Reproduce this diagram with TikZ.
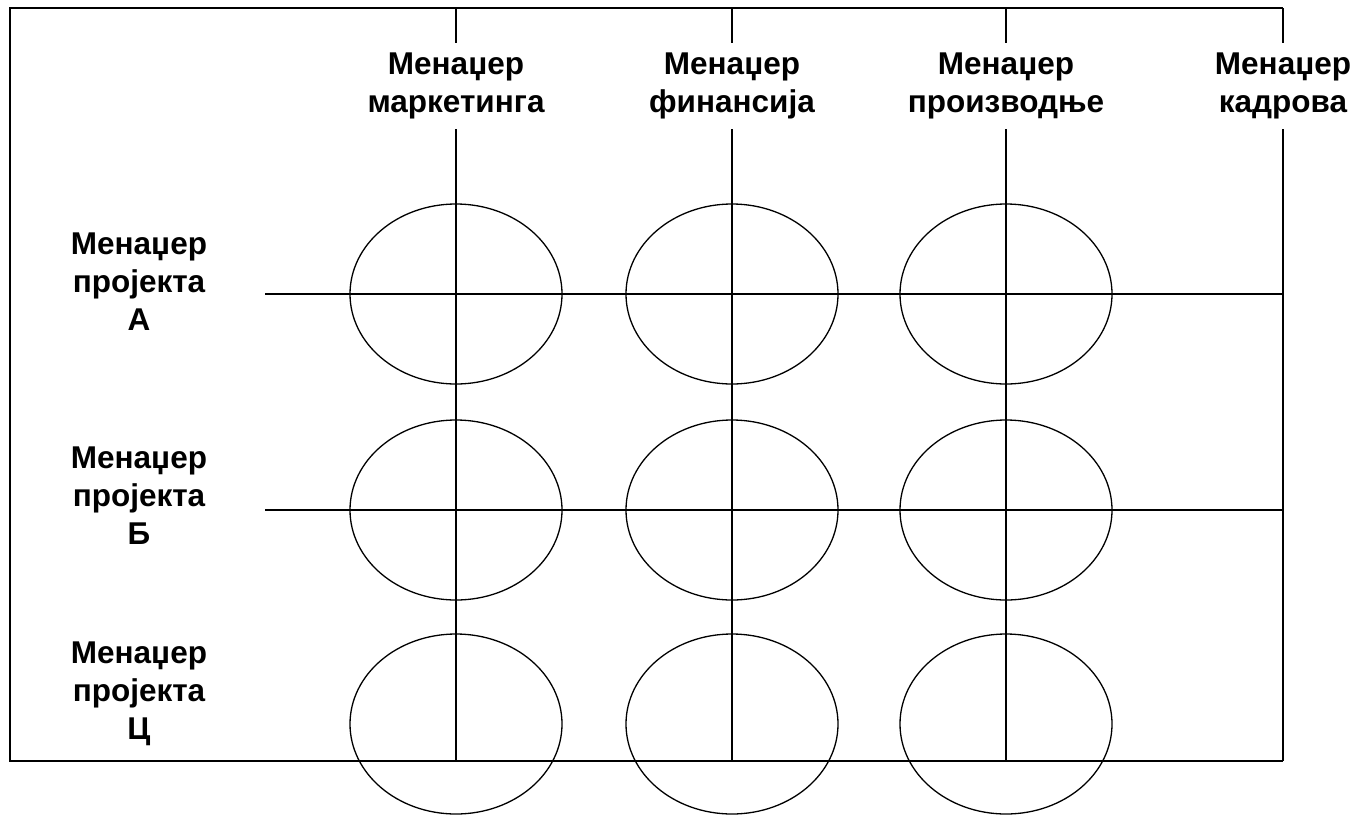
\documentclass[tikz,border=0pt]{standalone}
\usepackage{fontspec}
\setmainfont{Liberation Sans}
\usetikzlibrary{shapes.geometric}
\begin{document}
\begin{tikzpicture}[x=1pt,y=-1pt,
  lbl/.style={font=\bfseries\fontsize{31.5}{38}\selectfont, align=center, inner sep=10pt},
  oval/.style={draw, ellipse, line width=1.3pt, minimum width=212pt, minimum height=180pt, inner sep=0pt},
  frame/.style={line width=2.8pt},
  col/.style={line width=1.7pt},
  rowa/.style={line width=2.7pt},
  rowb/.style={line width=1.8pt}]
\useasboundingbox (0,0) rectangle (1357,814);
% frame
\coordinate (tl) at (10,8);
\coordinate (tr) at (1283,8);
\coordinate (bl) at (10,761);
\coordinate (br) at (1283,761);
\draw[frame] (tr) -- (tl) -- (bl) -- (br);
% column labels
\node[lbl] (h1) at (456,86) {Менаџер\\маркетинга};
\node[lbl] (h2) at (732,86) {Менаџер\\финансија};
\node[lbl] (h3) at (1006,86) {Менаџер\\производње};
\node[lbl] (h4) at (1283,86) {Менаџер\\кадрова};
% column lines
\coordinate (t1) at (456,8);  \coordinate (b1) at (456,761);
\coordinate (t2) at (732,8);  \coordinate (b2) at (732,761);
\coordinate (t3) at (1006,8); \coordinate (b3) at (1006,761);
\coordinate (t4) at (1283,8); \coordinate (b4) at (1283,761);
\draw[col] (t1) -- (h1.north); \draw[col] (h1.south) -- (b1);
\draw[col] (t2) -- (h2.north); \draw[col] (h2.south) -- (b2);
\draw[col] (t3) -- (h3.north); \draw[col] (h3.south) -- (b3);
\draw[line width=2.2pt] (t4) -- (h4.north); \draw[line width=2.2pt] (h4.south) -- (b4);
% row labels
\node[lbl] (r1) at (139,282) {Менаџер\\пројекта\\А};
\node[lbl] (r2) at (139,496) {Менаџер\\пројекта\\Б};
\node[lbl] (r3) at (139,694) {Менаџер\\пројекта\\Ц};
% row lines
\coordinate (a0) at (265,294); \coordinate (a1) at (1283,294);
\coordinate (c0) at (265,510); \coordinate (c1) at (1283,510);
\draw[rowa] (a0) -- (a1);
\draw[rowb] (c0) -- (c1);
% ellipses
\node[oval] (e11) at (456,294) {};
\node[oval] (e12) at (732,294) {};
\node[oval] (e13) at (1006,294) {};
\node[oval] (e21) at (456,510) {};
\node[oval] (e22) at (732,510) {};
\node[oval] (e23) at (1006,510) {};
\node[oval] (e31) at (456,724) {};
\node[oval] (e32) at (732,724) {};
\node[oval] (e33) at (1006,724) {};
\end{tikzpicture}
\end{document}
